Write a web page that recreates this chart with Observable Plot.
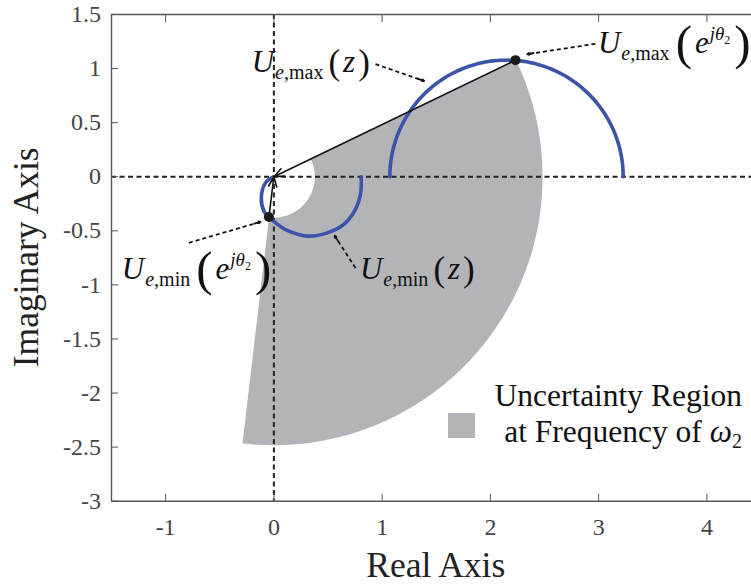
<!DOCTYPE html>
<html>
<head>
<meta charset="utf-8">
<script src="https://cdn.jsdelivr.net/npm/d3@7"></script>
<script src="https://cdn.jsdelivr.net/npm/@observablehq/plot@0.6"></script>
<style>
  html, body { margin: 0; padding: 0; background: #fff; overflow: hidden; }
  #chart svg { display: block; overflow: hidden; }
</style>
</head>
<body>
<div id="chart"></div>
<script>
// ---- axes ----
const xDomain = [-1.5, 4.5];
const yDomain = [-3, 1.5];
const xTicks = [-1, 0, 1, 2, 3, 4];
const yTicks = [-3, -2.5, -2, -1.5, -1, -0.5, 0, 0.5, 1, 1.5];
const xLabel = "Real Axis";
const yLabel = "Imaginary Axis";

// ---- uncertainty region: annular sector about the origin ----
const regionRadii = [0.378, 2.482];   // inner, outer
const regionAngles = [-96.7, 25.8];   // start, end (degrees)

// ---- U_e,max(z): upper half circle ----
const maxLocusCenter = [2.149, 0];
const maxLocusRadius = 1.078;
const maxLocusAngles = [0, 180];

// ---- U_e,min(z): traced locus ----
const minLocusX = [0.0, -0.077, -0.116, -0.092, -0.046, 0.016, 0.124, 0.308, 0.493, 0.646, 0.754, 0.80, 0.807];
const minLocusY = [0.0, -0.056, -0.194, -0.318, -0.373, -0.426, -0.497, -0.549, -0.519, -0.441, -0.302, -0.163, 0.0];

// ---- marked points U_e,max(e^jθ2), U_e,min(e^jθ2) ----
const pointX = [2.232, -0.046];
const pointY = [1.078, -0.373];

// ---- callout arrows (start -> end) ----
const calloutX1 = [0.939, 2.970, -0.785, 0.754];
const calloutY1 = [1.041, 1.229, -0.611, -0.843];
const calloutX2 = [1.388, 2.340, -0.123, 0.561];
const calloutY2 = [0.886, 1.133, -0.417, -0.545];

// ---- callout labels (left end of U, on its baseline) ----
const labelKinds = ["max-z", "max-e", "min-e", "min-z"];
const labelX = [-0.20, 2.998, -1.40, 0.80];
const labelY = [0.963, 1.136, -0.95, -0.95];

// ---- legend ----
const legendLines = ["Uncertainty Region", "at Frequency of "];

const serif = "'Liberation Serif', 'Times New Roman', serif";
const blue = "#3a55a7";
const gray = "#b3b4b8";
const axisColor = "#555";
const tickText = "#444";

const rad = Math.PI / 180;
function sweep(cx, cy, r, a0, a1, n) {
  const pts = [];
  for (let i = 0; i <= n; i++) {
    const a = (a0 + (a1 - a0) * i / n) * rad;
    pts.push({x: cx + r * Math.cos(a), y: cy + r * Math.sin(a)});
  }
  return pts;
}
const regionOutline = [
  ...sweep(0, 0, regionRadii[1], regionAngles[1], regionAngles[0], 160),
  ...sweep(0, 0, regionRadii[0], regionAngles[0], regionAngles[1], 60)
];
const maxLocus = sweep(maxLocusCenter[0], maxLocusCenter[1], maxLocusRadius, maxLocusAngles[0], maxLocusAngles[1], 120);
const minLocus = minLocusX.map((x, i) => ({x, y: minLocusY[i]}));
const points = pointX.map((x, i) => ({x, y: pointY[i]}));
const links = calloutX1.map((x1, i) => ({x1, y1: calloutY1[i], x2: calloutX2[i], y2: calloutY2[i]}));
// short solid stubs carrying the arrowheads at the end of each callout
const heads = links.map(d => {
  const dx = d.x2 - d.x1, dy = d.y2 - d.y1, len = Math.hypot(dx, dy);
  return {x1: d.x2 - dx / len * 0.06, y1: d.y2 - dy / len * 0.06, x2: d.x2, y2: d.y2};
});
const chords = points.map(p => ({x1: p.x, y1: p.y, x2: 0, y2: 0}));

const width = 751, height = 584;
const plot = Plot.plot({
  width, height,
  marginLeft: 111, marginRight: -9.5, marginTop: 14, marginBottom: 83.3,
  style: {background: "#fff"},
  x: {domain: xDomain},
  y: {domain: yDomain},
  marks: [
    Plot.line(regionOutline, {x: "x", y: "y", fill: gray, stroke: "none"}),
    Plot.ruleX([0], {stroke: "#222", strokeWidth: 2, strokeDasharray: "5,3.5"}),
    Plot.ruleY([0], {stroke: "#222", strokeWidth: 2, strokeDasharray: "5,3.5"}),
    Plot.line(maxLocus, {x: "x", y: "y", stroke: blue, strokeWidth: 3.6}),
    Plot.line(minLocus, {x: "x", y: "y", stroke: blue, strokeWidth: 3.6, curve: "catmull-rom"}),
    Plot.arrow(chords, {x1: "x1", y1: "y1", x2: "x2", y2: "y2", stroke: "#111", strokeWidth: 1.6, headLength: 10, headAngle: 45}),
    Plot.link(links, {x1: "x1", y1: "y1", x2: "x2", y2: "y2", stroke: "#111", strokeWidth: 1.8, strokeDasharray: "4,3"}),
    Plot.arrow(heads, {x1: "x1", y1: "y1", x2: "x2", y2: "y2", stroke: "#111", strokeWidth: 1.8, headLength: 8, headAngle: 50}),
    Plot.dot(points, {x: "x", y: "y", r: 5, fill: "#1a1a1a", stroke: "none"}),
    Plot.ruleY([yDomain[0], yDomain[1]], {stroke: axisColor, strokeWidth: 1.4}),
    Plot.ruleX([xDomain[0]], {stroke: axisColor, strokeWidth: 1.4}),
    Plot.axisX(xTicks, {anchor: "bottom", tickSize: -7, tickPadding: 23.5, stroke: axisColor, fill: tickText, fontSize: 24, tickFormat: d => String(d), label: null}),
    Plot.axisX(xTicks, {anchor: "top", tickSize: -7, stroke: axisColor, tickFormat: () => "", label: null}),
    Plot.axisY(yTicks, {anchor: "left", tickSize: -7, tickPadding: 17.5, stroke: axisColor, fill: tickText, fontSize: 24, tickFormat: d => String(d), label: null})
  ]
});
document.getElementById("chart").appendChild(plot);

const sx = plot.scale("x").apply, sy = plot.scale("y").apply;
const svg = d3.select(plot);

// tick labels: Times-style serif at 24px
svg.selectAll('g[aria-label="x-axis tick label"], g[aria-label="y-axis tick label"]')
  .style("font-family", serif).style("font-size", "24px")
  .selectAll("text").style("font-family", serif).style("font-size", "24px");

const g = svg.append("g").attr("text-anchor", "start");

// axis titles
const [rx0, rx1] = plot.scale("x").range;
g.append("text").attr("x", (rx0 + rx1) / 2).attr("y", 576.7)
  .attr("text-anchor", "middle").attr("font-size", 35.5).attr("fill", "#222").text(xLabel);
g.append("text").attr("transform", `translate(38,${(sy(yDomain[0]) + sy(yDomain[1])) / 2}) rotate(-90)`)
  .attr("text-anchor", "middle").attr("font-size", 35.5).attr("fill", "#222").text(yLabel);

// callout labels with sub/superscripts
function mathLabel(x, y, parts) {
  const t = g.append("text").attr("x", x).attr("y", y).attr("fill", "#111").attr("text-anchor", "start");
  let prev = 0;
  for (const p of parts) {
    const off = p.off || 0;
    t.append("tspan").attr("dy", off - prev).attr("dx", p.dx || 0)
      .attr("font-size", p.size).attr("font-style", p.it ? "italic" : "normal").text(p.t);
    prev = off;
  }
}
const sub = w => [
  {t: "U", size: 31, it: true},
  {t: "e", size: 20, it: true, off: 7, dx: 1},
  {t: "," + w, size: 20, off: 7}
];
const argZ = [
  {t: "(", size: 35, off: 2, dx: 5},
  {t: "z", size: 31, it: true, off: 0, dx: 3},
  {t: ")", size: 35, off: 2, dx: 3}
];
const argE = [
  {t: "(", size: 49, off: 6, dx: 6},
  {t: "e", size: 31, it: true, off: 0, dx: 3},
  {t: "j", size: 19, it: true, off: -13, dx: 1},
  {t: "θ", size: 19, it: true, off: -13},
  {t: "2", size: 12, off: -9},
  {t: ")", size: 49, off: 6, dx: 4}
];
labelKinds.forEach((k, i) => {
  const [w, a] = k.split("-");
  mathLabel(sx(labelX[i]), sy(labelY[i]), [...sub(w), ...(a === "z" ? argZ : argE)]);
});

// legend
g.append("rect").attr("x", 448).attr("y", 413).attr("width", 27).attr("height", 25).attr("fill", gray);
g.append("text").attr("x", 742).attr("y", 406).attr("text-anchor", "end")
  .attr("font-size", 31.5).attr("fill", "#111").text(legendLines[0]);
const l2 = g.append("text").attr("x", 742).attr("y", 442).attr("text-anchor", "end")
  .attr("font-size", 31.5).attr("fill", "#111");
l2.append("tspan").text(legendLines[1]);
l2.append("tspan").attr("font-style", "italic").text("ω");
l2.append("tspan").attr("font-size", 20).attr("dy", 6).text("2");

// every text in the figure is set in a Times-style serif
svg.selectAll("text").style("font-family", serif);
</script>
</body>
</html>
